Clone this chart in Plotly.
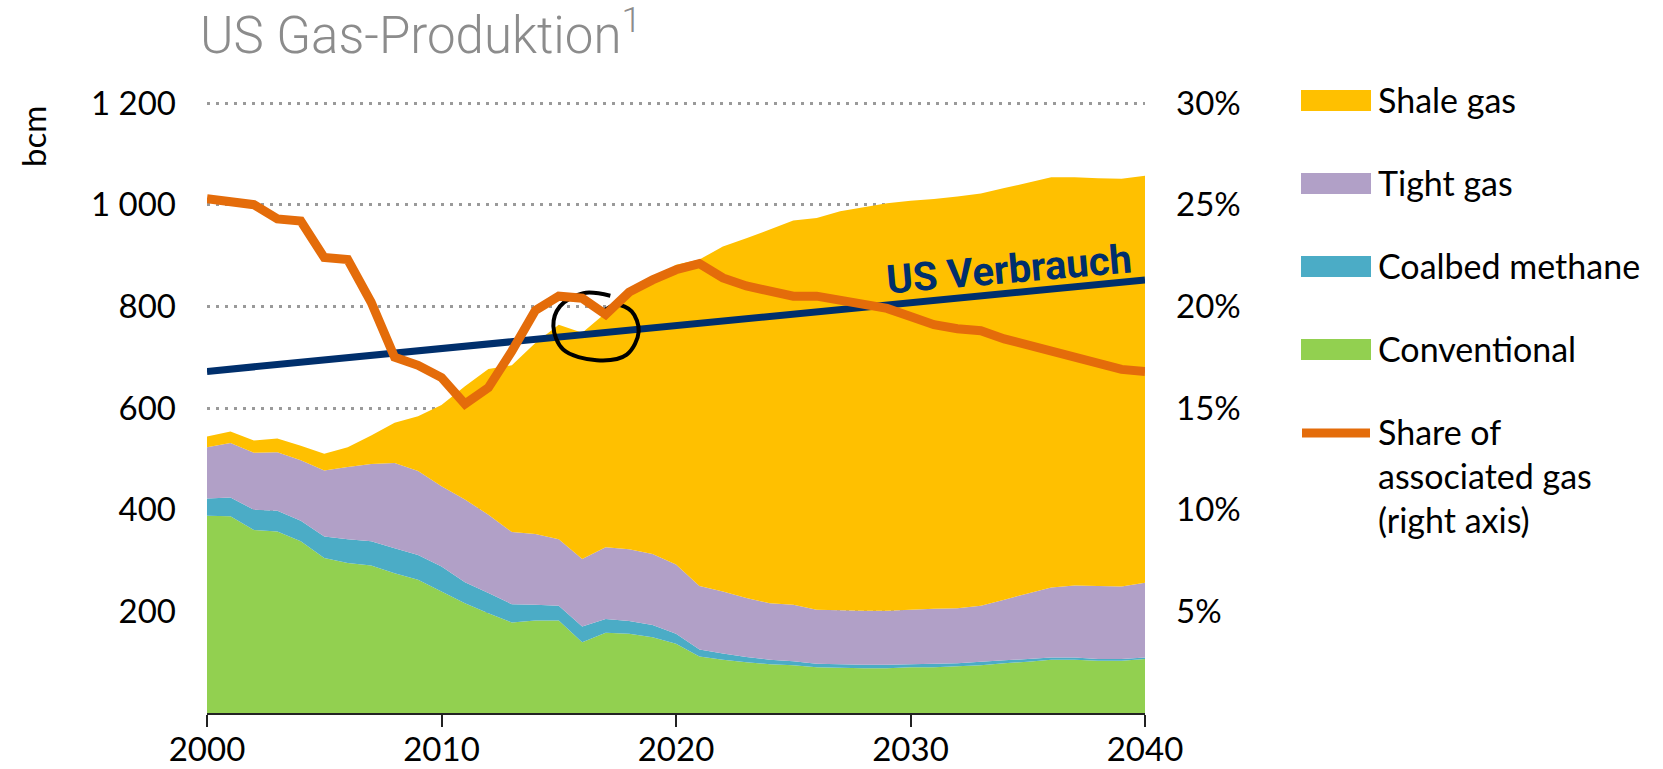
import plotly.graph_objects as go

# ---------------- data ----------------
years = list(range(2000, 2041))

conventional = [388, 387, 360, 357, 338, 305, 295, 290, 275, 262, 239, 216, 196, 178, 182, 182, 139, 158, 156, 149,
                136, 111, 105, 100, 96, 94, 90, 89, 88, 88, 90, 90, 92, 94, 98, 101, 105, 105, 103, 103, 106]
coalbed_methane = [34, 37, 40, 41, 40, 42, 47, 48, 49, 49, 49, 41, 40, 36, 31, 29, 31, 27, 25, 24,
                   20, 14, 12, 10, 9, 8, 7, 7, 7, 7, 6, 7, 6, 7, 6, 5, 4, 4, 3, 3, 3]
tight_gas = [101, 107, 112, 115, 119, 130, 142, 152, 168, 165, 158, 163, 154, 142, 139, 131, 133, 141, 141, 140,
             136, 125, 122, 116, 111, 111, 106, 106, 106, 106, 107, 108, 108, 110, 119, 129, 138, 142, 144, 143, 147]
shale_gas = [21, 23, 24, 27, 29, 33, 39, 56, 79, 108, 160, 223, 287, 328, 376, 422, 445, 461, 499, 536,
             590, 642, 679, 708, 735, 756, 771, 785, 794, 802, 805, 806, 810, 811, 810, 808, 807, 803, 802, 802, 801]
share_associated = [25.3, 25.2, 25.0, 24.3, 24.2, 22.4, 22.3, 20.2, 17.5, 17.1, 16.5, 15.2, 16.0, 17.8, 19.8, 20.5,
                    20.4, 19.6, 20.7, 21.3, 21.8, 22.1, 21.4, 21.0, 20.7, 20.5, 20.5, 20.3, 20.2, 19.9, 19.5, 19.1,
                    18.9, 18.8, 18.4, 18.1, 17.8, 17.4, 17.1, 16.9, 16.8]
consumption_years = [2000, 2040]
consumption = [672, 852]

# hand-drawn circle (annotation), in data units
circle_x = [2017.2, 2016.05, 2015.05, 2014.77, 2015.19, 2016.62, 2017.9, 2018.41, 2018.11, 2017.47, 2016.83]
circle_y = [821, 826, 800, 761, 715, 694, 705, 751, 790, 803, 788]

left_ticks = [200, 400, 600, 800, 1000, 1200]
left_ticktext = ["200", "400", "600", "800", "1 000", "1 200"]
right_ticks = [5, 10, 15, 20, 25, 30]
right_ticktext = ["5%", "10%", "15%", "20%", "25%", "30%"]
x_ticks = [2000, 2010, 2020, 2030, 2040]

# ---------------- styles ----------------
C_SHALE = "#FFC000"
C_TIGHT = "#B1A0C7"
C_CBM = "#4BACC6"
C_CONV = "#92D050"
C_SHARE = "#E46C0A"
C_NAVY = "#002F6C"
FONT = "Lato, Carlito, Open Sans, sans-serif"

W, H = 1663, 769
Y_TOP = 1204            # a hair above 1200 so the 1200 grid line is drawn
L, R, B = 207, 518, 56
PH = round(610 * Y_TOP / 1200)
T = H - B - PH
PW = W - L - R


def px(x):
    return (x - L) / PW


def py(y):
    return (H - B - y) / PH


fig = go.Figure()

for name, vals, col in [("Conventional", conventional, C_CONV),
                        ("Coalbed methane", coalbed_methane, C_CBM),
                        ("Tight gas", tight_gas, C_TIGHT),
                        ("Shale gas", shale_gas, C_SHALE)]:
    fig.add_trace(go.Scatter(x=years, y=vals, name=name, mode="none", stackgroup="one",
                             fillcolor=col, line=dict(width=0), showlegend=False))

fig.add_trace(go.Scatter(x=years, y=share_associated, yaxis="y2", mode="lines",
                         line=dict(color=C_SHARE, width=9), showlegend=False,
                         name="Share of associated gas (right axis)"))
fig.add_trace(go.Scatter(x=consumption_years, y=consumption, mode="lines",
                         line=dict(color=C_NAVY, width=7), showlegend=False, name="US Verbrauch"))
fig.add_trace(go.Scatter(x=circle_x, y=circle_y, mode="lines", line_shape="spline",
                         line=dict(color="black", width=4, smoothing=1.0), showlegend=False,
                         hoverinfo="skip"))

fig.update_layout(
    width=W, height=H,
    margin=dict(l=L, r=R, t=T, b=B, autoexpand=False),
    paper_bgcolor="white", plot_bgcolor="white",
    font=dict(family=FONT, size=33, color="black"),
    showlegend=False,
    xaxis=dict(range=[2000, 2040], tickvals=x_ticks, ticks="outside", ticklen=12, tickwidth=2,
               tickcolor="#222", showline=True, linecolor="#222", linewidth=2, showgrid=False,
               zeroline=False, automargin=False, ticklabelstandoff=-6,
               tickfont=dict(family=FONT, size=33, color="black")),
    yaxis=dict(range=[0, Y_TOP], tickvals=left_ticks, ticktext=left_ticktext, showgrid=True,
               gridcolor="#9A9A9A", griddash="3px,6px", gridwidth=3, zeroline=False, showline=False,
               ticks="", ticklabelstandoff=30, automargin=False,
               tickfont=dict(family=FONT, size=33, color="black")),
    yaxis2=dict(range=[0, 30 * Y_TOP / 1200], overlaying="y", side="right", tickvals=right_ticks,
                ticktext=right_ticktext, showgrid=False, zeroline=False, showline=False, ticks="",
                ticklabelstandoff=30, automargin=False,
                tickfont=dict(family=FONT, size=33, color="black")),
)

ann = []
# title
ann.append(dict(xref="paper", yref="paper", x=px(198), y=py(32), xanchor="left", yanchor="middle",
                text="US Gas-Produktion<sup>1</sup>", showarrow=False,
                font=dict(family="Roboto, sans-serif", size=51, color="#8C8C8C", weight=300)))
# y axis title
ann.append(dict(xref="paper", yref="paper", x=px(33), y=py(137), xanchor="center", yanchor="middle",
                text="bcm", textangle=-90, showarrow=False, font=dict(family=FONT, size=33, color="black")))
# US Verbrauch label
ann.append(dict(xref="x", yref="y", x=2034.2, y=873, xanchor="center", yanchor="middle",
                text="<b>US Verbrauch</b>", textangle=-5, showarrow=False,
                font=dict(family="Roboto, sans-serif", size=40, color=C_NAVY)))

# custom legend
shapes = []
legend_items = [("Shale gas", C_SHALE, 100.5), ("Tight gas", C_TIGHT, 183.5),
                ("Coalbed methane", C_CBM, 266.5), ("Conventional", C_CONV, 349.5)]
for label, col, yc in legend_items:
    shapes.append(dict(type="rect", xref="paper", yref="paper", x0=px(1301), x1=px(1371),
                       y0=py(yc + 10.5), y1=py(yc - 10.5), fillcolor=col, line=dict(width=0)))
    ann.append(dict(xref="paper", yref="paper", x=px(1376), y=py(yc - 1), xanchor="left", yanchor="middle",
                    text=label, showarrow=False, font=dict(family=FONT, size=34, color="black")))
shapes.append(dict(type="line", xref="paper", yref="paper", x0=px(1302), x1=px(1370),
                   y0=py(433), y1=py(433), line=dict(color=C_SHARE, width=9)))
ann.append(dict(xref="paper", yref="paper", x=px(1376), y=py(409), xanchor="left", yanchor="top",
                align="left", text="Share of<br>associated gas<br>(right axis)", showarrow=False,
                font=dict(family=FONT, size=34, color="black")))

fig.update_layout(annotations=ann, shapes=shapes)
fig.write_html("out.html", config={"responsive": False, "displayModeBar": False},
               post_script="document.body.style.margin='0';document.body.style.overflow='hidden';")
